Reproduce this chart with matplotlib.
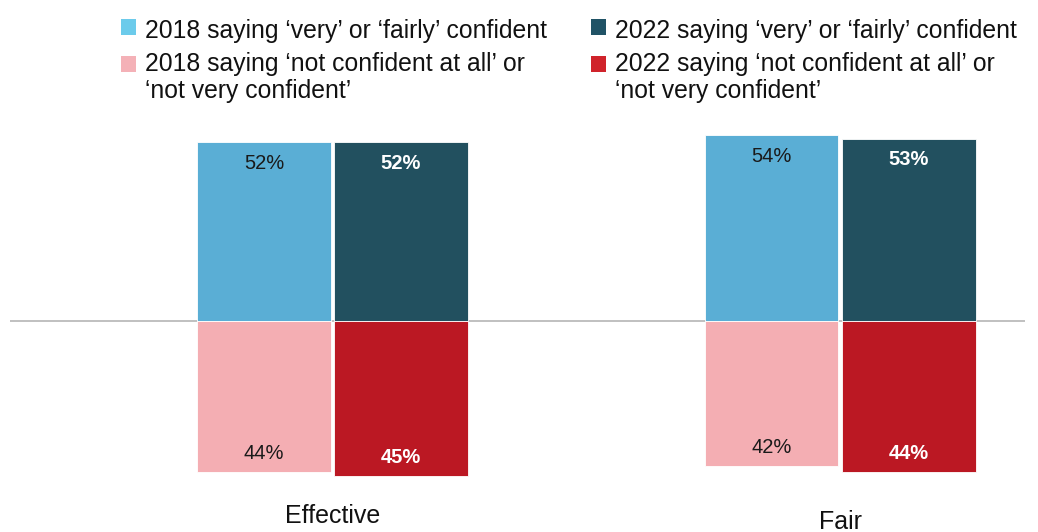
import matplotlib
matplotlib.use("Agg")
import matplotlib.pyplot as plt
from matplotlib.patches import Rectangle
from matplotlib.transforms import blended_transform_factory

plt.rcParams['font.family'] = ['Liberation Sans', 'DejaVu Sans']

# Data
categories = ["Effective", "Fair"]
confident_2018 = [52, 54]
confident_2022 = [52, 53]
not_confident_2018 = [44, 42]
not_confident_2022 = [45, 44]
legend_labels = [
    "2018 saying \u2018very\u2019 or \u2018fairly\u2019 confident",
    "2018 saying \u2018not confident at all\u2019 or\n\u2018not very confident\u2019",
    "2022 saying \u2018very\u2019 or \u2018fairly\u2019 confident",
    "2022 saying \u2018not confident at all\u2019 or\n\u2018not very confident\u2019",
]

# Colours
c_light_blue = "#5aaed5"
c_dark_teal = "#22505f"
c_pink = "#f4aeb3"
c_red = "#bb1823"
leg_colors = ["#6ccbeb", "#f4b1b7", "#205366", "#d0232b"]

W, H = 1038, 532
fig = plt.figure(figsize=(W / 100, H / 100), dpi=100)

# axes placed in pixel terms: left 10, right 1025, top 130, bottom 480
ax = fig.add_axes([10 / W, 1 - 480 / H, (1025 - 10) / W, (480 - 130) / H])

x = list(range(len(categories)))
width = 0.264
off = 0.135
xl = [i - off for i in x]
xr = [i + off for i in x]

ax.bar(xl, confident_2018, width, color=c_light_blue, edgecolor="white", linewidth=0.6)
ax.bar(xr, confident_2022, width, color=c_dark_teal, edgecolor="white", linewidth=0.6)
ax.bar(xl, [-v for v in not_confident_2018], width, color=c_pink, edgecolor="white", linewidth=0.6)
ax.bar(xr, [-v for v in not_confident_2022], width, color=c_red, edgecolor="white", linewidth=0.6)

ax.set_xlim(-0.6355, 1.3645)
ax.set_ylim(-46.2, 55.5)
ax.axhline(0, color="#b5b5b5", linewidth=1.2, zorder=0.5)
ax.axis("off")

lab_fs = 14.5
for xi, v in zip(xl, confident_2018):
    ax.annotate(f"{v}%", (xi, v), xytext=(0, -21), textcoords="offset pixels",
                ha="center", va="center", fontsize=lab_fs, color="#1a1a1a")
for xi, v in zip(xr, confident_2022):
    ax.annotate(f"{v}%", (xi, v), xytext=(0, -21), textcoords="offset pixels",
                ha="center", va="center", fontsize=lab_fs, color="white", fontweight="bold")
for xi, v in zip(xl, not_confident_2018):
    ax.annotate(f"{v}%", (xi, -v), xytext=(0, 18.5), textcoords="offset pixels",
                ha="center", va="center", fontsize=lab_fs, color="#1a1a1a")
for xi, v in zip(xr, not_confident_2022):
    ax.annotate(f"{v}%", (xi, -v), xytext=(0, 18.5), textcoords="offset pixels",
                ha="center", va="center", fontsize=lab_fs, color="white", fontweight="bold")

# category labels beneath each group
cat_y_px = [516, 522]
cat_tr = blended_transform_factory(ax.transData, fig.transFigure)
for xi, name, ypx in zip(x, categories, cat_y_px):
    ax.text(xi, 1 - ypx / H, name, transform=cat_tr,
            ha="center", va="center", fontsize=18, color="#111111")

# legend drawn in figure pixel coordinates
leg_fs = 17.8
col_marker_x = [121, 591]
col_text_x = [145, 615]
row_baselines = [38, 71]
line_gap = 27
marker_tops = [19.5, 56.5]
msize = 15
for k, label in enumerate(legend_labels):
    col, row = k // 2, k % 2
    mx = col_marker_x[col]
    my = marker_tops[row]
    fig.patches.append(Rectangle((mx / W, 1 - (my + msize) / H), msize / W, msize / H,
                                 transform=fig.transFigure, facecolor=leg_colors[k],
                                 edgecolor="none"))
    for j, line in enumerate(label.split("\n")):
        fig.text(col_text_x[col] / W, 1 - (row_baselines[row] + j * line_gap) / H, line,
                 ha="left", va="baseline", fontsize=leg_fs, color="#111111")

fig.savefig("out.png", dpi=100, facecolor="white")
